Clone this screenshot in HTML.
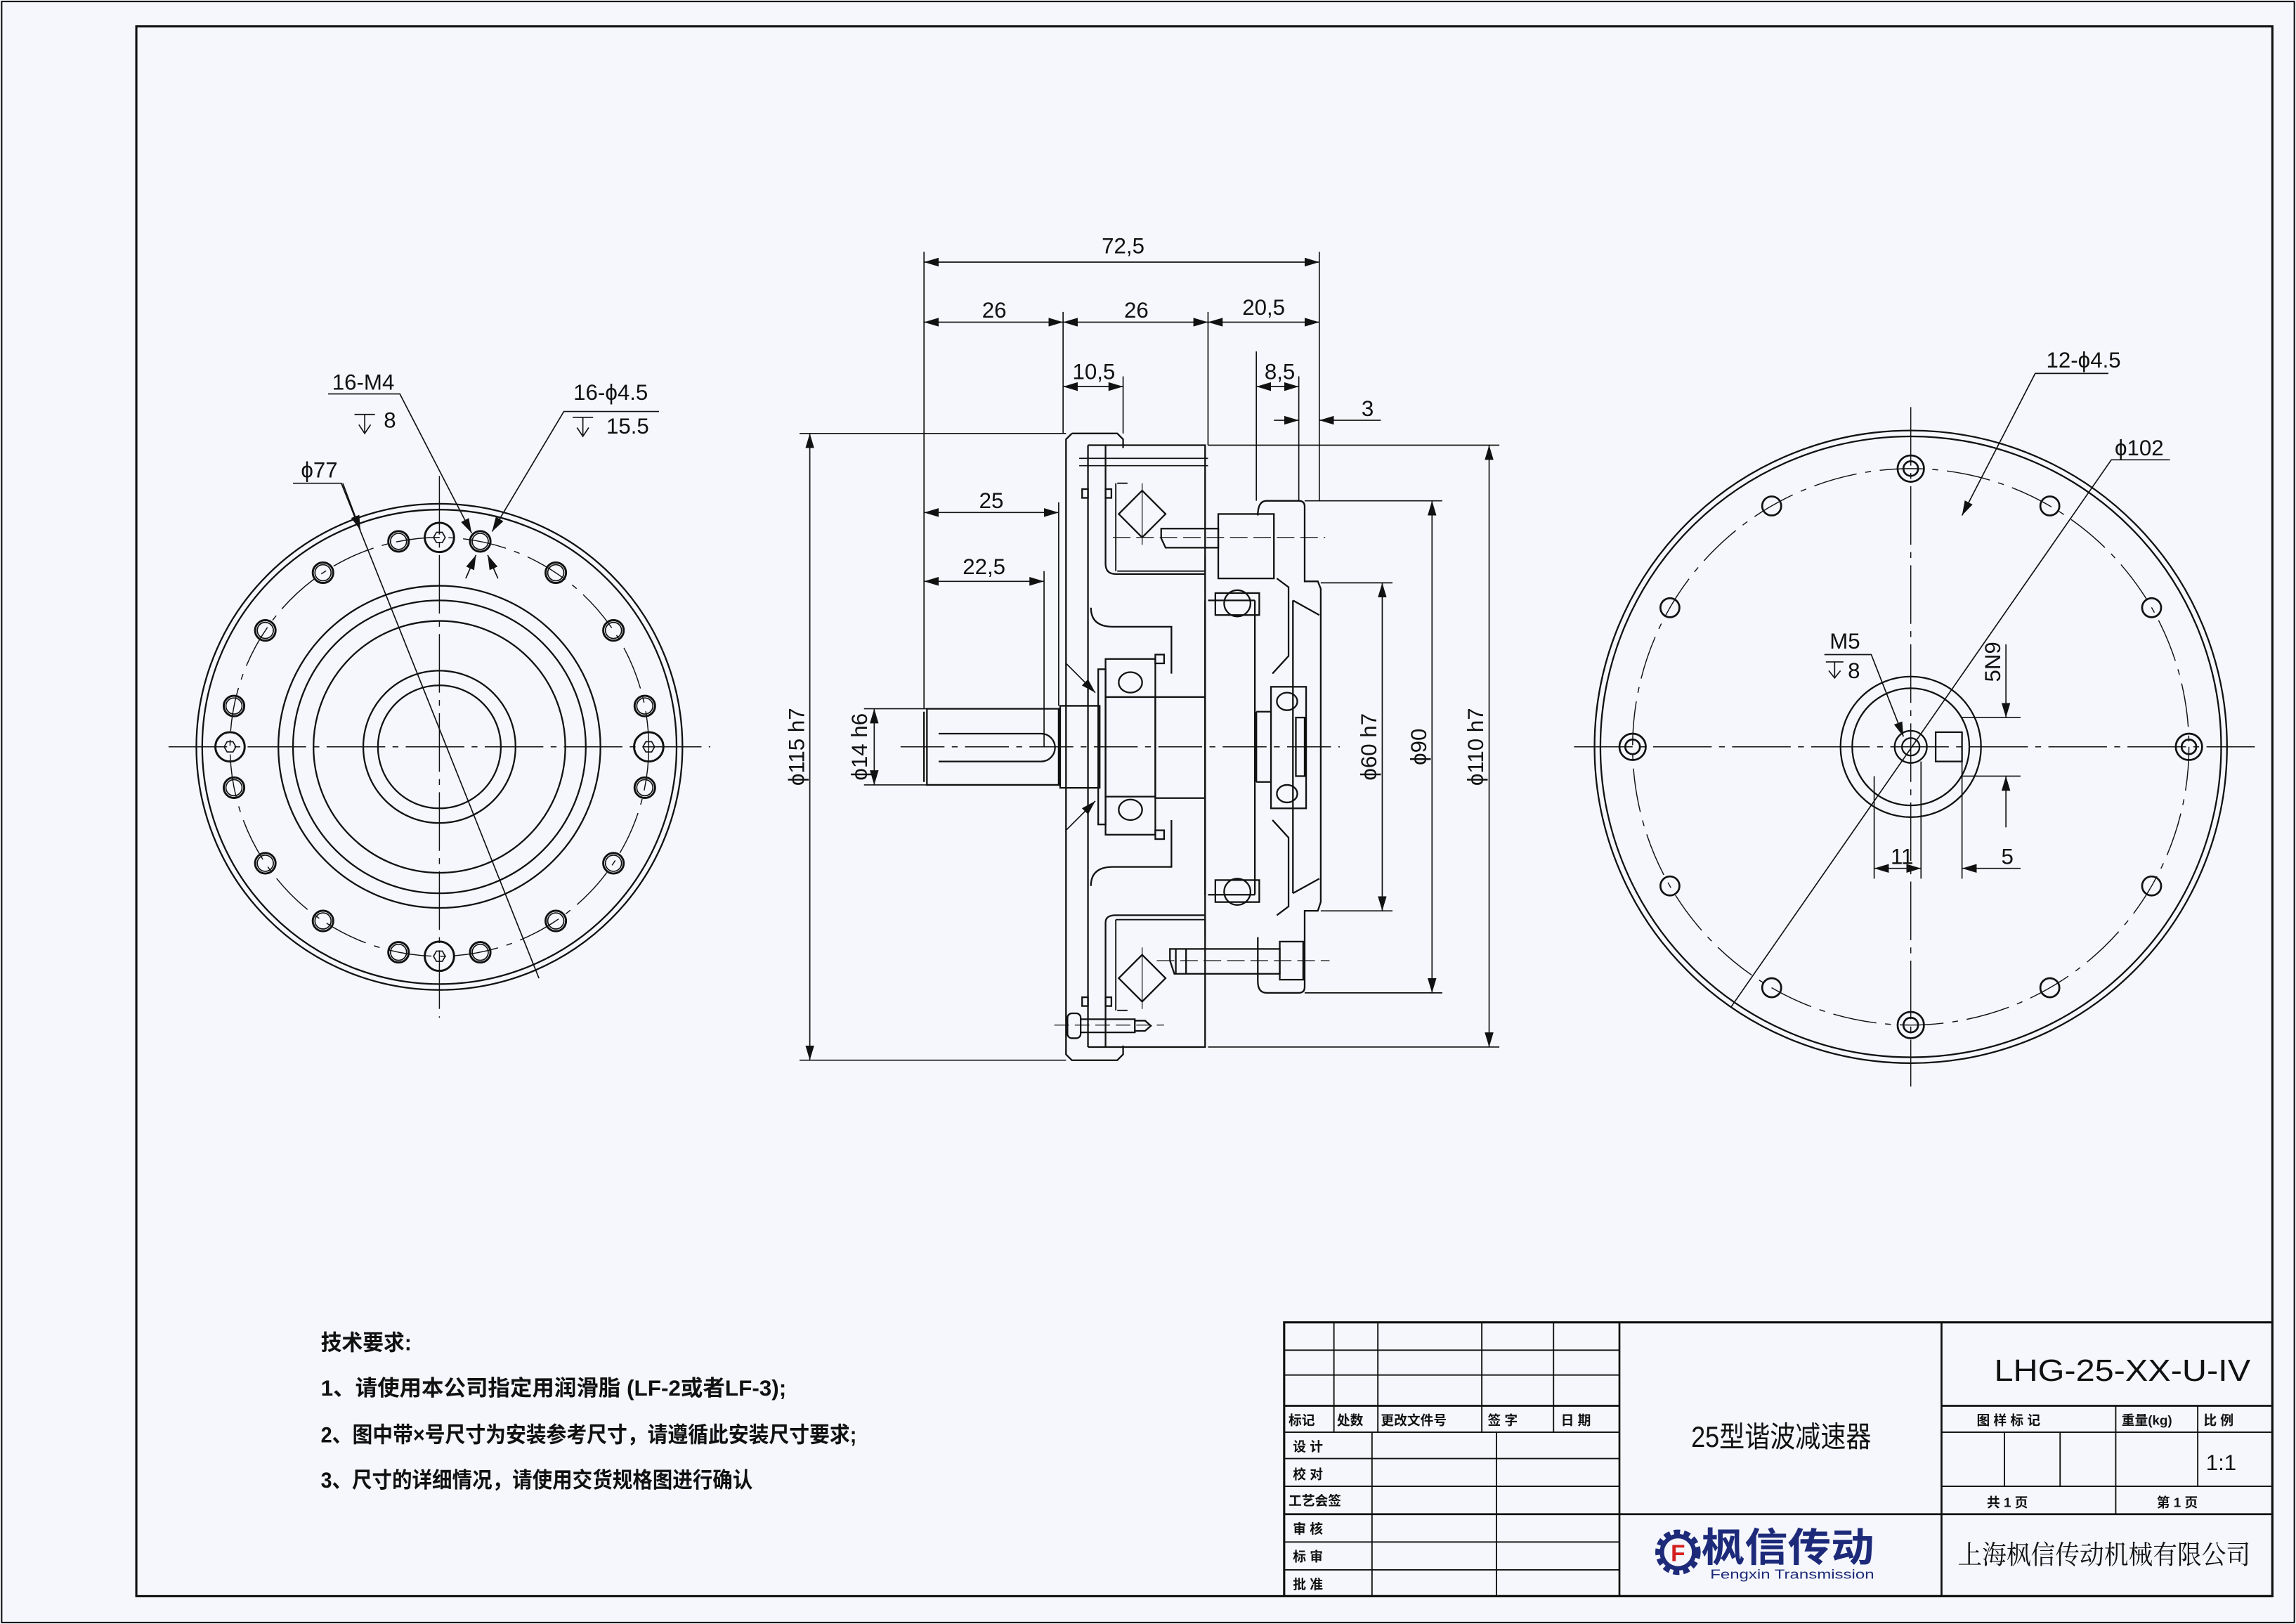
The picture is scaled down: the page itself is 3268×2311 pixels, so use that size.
<!DOCTYPE html>
<html><head><meta charset="utf-8"><style>
html,body{margin:0;padding:0;background:#f5f7fc}
svg{display:block}
text{font-family:"Liberation Sans","Noto Sans CJK SC",sans-serif;fill:#111}
</style></head><body>
<svg width="3268" height="2311" viewBox="0 0 1568 1109" xmlns="http://www.w3.org/2000/svg">
<defs>
<marker id="ar" markerWidth="10" markerHeight="6" refX="10" refY="3" orient="auto-start-reverse" markerUnits="userSpaceOnUse"><path d="M0,0 L10,3 L0,6 z" fill="#111"/></marker>
</defs>
<rect x="0" y="0" width="1568" height="1109" fill="#f5f7fc"/>
<rect x="1" y="1" width="1566" height="1107" fill="none" stroke="#111" stroke-width="1"/>
<rect x="93" y="18" width="1459" height="1072" fill="none" stroke="#111" stroke-width="1.5"/>

<g fill="none" stroke="#111" stroke-width="1.1">
<!-- ============ LEFT VIEW ============ -->
<g>
<line x1="115" y1="510" x2="485" y2="510" stroke-width="0.7" stroke-dasharray="40,5,4,5"/>
<line x1="300" y1="325" x2="300" y2="695" stroke-width="0.7" stroke-dasharray="40,5,4,5"/>
<circle cx="300" cy="510" r="166"/>
<circle cx="300" cy="510" r="162"/>
<circle cx="300" cy="510" r="110"/>
<circle cx="300" cy="510" r="100"/>
<circle cx="300" cy="510" r="86"/>
<circle cx="300" cy="510" r="52"/>
<circle cx="300" cy="510" r="42"/>
<circle cx="300" cy="510" r="143" stroke-width="0.7" stroke-dasharray="30,6,4,6"/>
<g stroke-width="1.4">
<circle cx="440.3" cy="537.9" r="7"/><circle cx="440.3" cy="482.1" r="7"/><circle cx="159.7" cy="537.9" r="7"/><circle cx="159.7" cy="482.1" r="7"/>
<circle cx="418.9" cy="589.5" r="7"/><circle cx="418.9" cy="430.5" r="7"/><circle cx="181.1" cy="589.5" r="7"/><circle cx="181.1" cy="430.5" r="7"/>
<circle cx="379.5" cy="628.9" r="7"/><circle cx="379.5" cy="391.1" r="7"/><circle cx="220.5" cy="628.9" r="7"/><circle cx="220.5" cy="391.1" r="7"/>
<circle cx="327.9" cy="650.3" r="7"/><circle cx="327.9" cy="369.7" r="7"/><circle cx="272.1" cy="650.3" r="7"/><circle cx="272.1" cy="369.7" r="7"/>
<circle cx="443" cy="510" r="10"/><circle cx="157" cy="510" r="10"/><circle cx="300" cy="367" r="10"/><circle cx="300" cy="653" r="10"/>
</g>
<g stroke-width="0.8">
<circle cx="440.3" cy="537.9" r="5.5"/><circle cx="440.3" cy="482.1" r="5.5"/><circle cx="159.7" cy="537.9" r="5.5"/><circle cx="159.7" cy="482.1" r="5.5"/>
<circle cx="418.9" cy="589.5" r="5.5"/><circle cx="418.9" cy="430.5" r="5.5"/><circle cx="181.1" cy="589.5" r="5.5"/><circle cx="181.1" cy="430.5" r="5.5"/>
<circle cx="379.5" cy="628.9" r="5.5"/><circle cx="379.5" cy="391.1" r="5.5"/><circle cx="220.5" cy="628.9" r="5.5"/><circle cx="220.5" cy="391.1" r="5.5"/>
<circle cx="327.9" cy="650.3" r="5.5"/><circle cx="327.9" cy="369.7" r="5.5"/><circle cx="272.1" cy="650.3" r="5.5"/><circle cx="272.1" cy="369.7" r="5.5"/>
<polygon points="447,510 445,513.5 441,513.5 439,510 441,506.5 445,506.5"/>
<polygon points="161,510 159,513.5 155,513.5 153,510 155,506.5 159,506.5"/>
<polygon points="304,367 302,370.5 298,370.5 296,367 298,363.5 302,363.5"/>
<polygon points="304,653 302,656.5 298,656.5 296,653 298,649.5 302,649.5"/>
</g>
<polyline points="224,269 273,269 322,364" stroke-width="0.8" marker-end="url(#ar)"/>
<polyline points="450,281 385,281 336,363" stroke-width="0.8" marker-end="url(#ar)"/>
<polyline points="200,330 233,330 368,668" stroke-width="0.8"/>
<line x1="234" y1="330" x2="246" y2="362" stroke-width="0.8" marker-end="url(#ar)"/>
<line x1="318" y1="395" x2="325" y2="379" stroke-width="0.8" marker-end="url(#ar)"/>
<line x1="340" y1="395" x2="333" y2="379" stroke-width="0.8" marker-end="url(#ar)"/>
<path d="M242,283 h14 M249,283 v12 M245,290 l4,6 l4,-6" stroke-width="0.8"/>
<path d="M391,285 h14 M398,285 v12 M394,292 l4,6 l4,-6" stroke-width="0.8"/>
</g>

<!-- ============ RIGHT VIEW ============ -->
<g>
<line x1="1075" y1="510" x2="1540" y2="510" stroke-width="0.7" stroke-dasharray="40,5,4,5"/>
<line x1="1305" y1="278" x2="1305" y2="742" stroke-width="0.7" stroke-dasharray="40,5,4,5"/>
<circle cx="1305" cy="510" r="216"/>
<circle cx="1305" cy="510" r="212"/>
<circle cx="1305" cy="510" r="190" stroke-width="0.7" stroke-dasharray="30,6,4,6"/>
<g stroke-width="1.3">
<circle cx="1495" cy="510" r="9"/><circle cx="1115" cy="510" r="9"/><circle cx="1305" cy="320" r="9"/><circle cx="1305" cy="700" r="9"/>
<circle cx="1495" cy="510" r="5"/><circle cx="1115" cy="510" r="5"/><circle cx="1305" cy="320" r="5"/><circle cx="1305" cy="700" r="5"/>
<circle cx="1469.5" cy="605" r="6.5"/><circle cx="1469.5" cy="415" r="6.5"/><circle cx="1140.5" cy="605" r="6.5"/><circle cx="1140.5" cy="415" r="6.5"/>
<circle cx="1400" cy="674.5" r="6.5"/><circle cx="1400" cy="345.5" r="6.5"/><circle cx="1210" cy="674.5" r="6.5"/><circle cx="1210" cy="345.5" r="6.5"/>
</g>
<circle cx="1305" cy="510" r="48"/>
<circle cx="1305" cy="510" r="40"/>
<circle cx="1305" cy="510" r="11"/>
<circle cx="1305" cy="510" r="6"/>
<rect x="1322" y="500" width="18" height="20"/>
<polyline points="1440,255 1390,255 1340,352" stroke-width="0.8" marker-end="url(#ar)"/>
<polyline points="1482,314 1442,314 1182,688" stroke-width="0.8"/>
<polyline points="1246,447 1278,447 1300,503" stroke-width="0.8" marker-end="url(#ar)"/>
<path d="M1247,452 h12 M1253,452 v10 M1249,458 l4,5 l4,-5" stroke-width="0.8"/>
<line x1="1340" y1="490" x2="1380" y2="490" stroke-width="0.8"/>
<line x1="1340" y1="530" x2="1380" y2="530" stroke-width="0.8"/>
<line x1="1370" y1="440" x2="1370" y2="490" stroke-width="0.8" marker-end="url(#ar)"/>
<line x1="1370" y1="565" x2="1370" y2="530" stroke-width="0.8" marker-end="url(#ar)"/>
<line x1="1280" y1="530" x2="1280" y2="600" stroke-width="0.8"/>
<line x1="1312" y1="520" x2="1312" y2="600" stroke-width="0.8"/>
<line x1="1340" y1="520" x2="1340" y2="600" stroke-width="0.8"/>
<line x1="1280" y1="593" x2="1312" y2="593" stroke-width="0.8" marker-start="url(#ar)" marker-end="url(#ar)"/>
<line x1="1380" y1="593" x2="1340" y2="593" stroke-width="0.8" marker-end="url(#ar)"/>
</g>

<!-- ============ MIDDLE VIEW ============ -->
<g>
<line x1="615" y1="510" x2="915" y2="510" stroke-width="0.7" stroke-dasharray="30,5,4,5"/>
<path d="M633,484 H723 V536 H633 Z"/>
<path d="M631,486 V534"/>
<path d="M641,501 H711 A9.5,9.5 0 0 1 711,520 H641"/>
<path d="M724,482 H751 V538 H724 Z"/>
<path d="M732,296 H763 L767,300 V306 M732,296 L728,300 V720 L732,724 H763 L767,720 V714"/>
<path d="M743,304 V715 M755,304 V385 Q755,392 762,392 H823 M755,715 V630 Q755,625 762,625 H823"/>
<path d="M743,304 H823 V715 H743"/>
<path d="M737,313 H825 M737,318 H825" stroke-width="0.8"/>
<path d="M745,415 Q745,428 760,428 H800 V460"/>
<path d="M745,605 Q745,592 760,592 H800 V560"/>
<rect x="755" y="450" width="34" height="120"/>
<rect x="750" y="457" width="5" height="106"/>
<ellipse cx="772" cy="466" rx="8" ry="7"/>
<ellipse cx="772" cy="553" rx="8" ry="7"/>
<line x1="755" y1="476" x2="789" y2="476"/><line x1="755" y1="544" x2="789" y2="544"/>
<rect x="789" y="476" width="34" height="69"/>
<rect x="789" y="447" width="6" height="6"/><rect x="789" y="567" width="6" height="6"/>
<path d="M823,410 V611 M857,410 V611"/>
<path d="M825,410 H857 M825,611 H857"/>
<circle cx="845" cy="412" r="9"/><circle cx="845" cy="609" r="9"/>
<rect x="830" y="405" width="30" height="15"/>
<rect x="830" y="601" width="30" height="15"/>
<polygon points="780,335 796,351 780,367 764,351"/>
<polygon points="780,652 796,668 780,684 764,668"/>
<line x1="780" y1="330" x2="780" y2="372" stroke-width="0.6"/>
<line x1="780" y1="647" x2="780" y2="689" stroke-width="0.6"/>
<path d="M763,330 H770 M763,390 H823 V380 M762,330 V390" stroke-width="0.9"/>
<path d="M763,690 H770 M762,628 H823 V640 M762,628 V690" stroke-width="0.9"/>
<rect x="739" y="334" width="4" height="6"/><rect x="755" y="334" width="4" height="6"/>
<rect x="739" y="681" width="4" height="6"/><rect x="755" y="681" width="4" height="6"/>
<path d="M793,361 H832 V374 H796 L793,367.5 Z"/>
<rect x="832" y="351" width="38" height="44"/>
<line x1="760" y1="367" x2="905" y2="367" stroke-width="0.6" stroke-dasharray="12,4"/>
<path d="M859,352 Q859,342 865,342 H887 Q891,342 891,346 V397 H900 L902,402 V616 L900,622 H891 V674 Q891,678 887,678 H865 Q859,678 859,670 V640"/>
<path d="M883,410 L901,420 M883,610 L901,600 M883,410 V610"/>
<path d="M872,395 L880,401 V448 L869,460 M872,625 L880,619 V572 L869,560"/>
<rect x="868" y="469" width="24" height="83"/>
<ellipse cx="879" cy="479" rx="7" ry="6"/><ellipse cx="879" cy="542" rx="7" ry="6"/>
<rect x="885" y="490" width="6" height="40"/>
<path d="M858,486 H868 M858,534 H868 M858,486 V534"/>
<path d="M799,648 H874 V665 H802 L799,656 Z"/>
<rect x="874" y="643" width="16" height="26"/>
<line x1="803" y1="648" x2="803" y2="665"/><line x1="810" y1="648" x2="810" y2="665"/>
<line x1="790" y1="656" x2="908" y2="656" stroke-width="0.6" stroke-dasharray="12,4"/>
<rect x="729" y="692" width="9" height="17" rx="3"/>
<path d="M738,696 H775 V705 H738 M775,697 H782 L786,700.5 L782,704 H775"/>
<line x1="720" y1="700" x2="795" y2="700" stroke-width="0.6" stroke-dasharray="10,4"/>
<line x1="728" y1="453" x2="748" y2="473" stroke-width="0.8" marker-end="url(#ar)"/>
<line x1="728" y1="567" x2="748" y2="547" stroke-width="0.8" marker-end="url(#ar)"/>
</g>

<g stroke-width="0.8">
<line x1="631" y1="172" x2="631" y2="484"/>
<line x1="901" y1="172" x2="901" y2="342"/>
<line x1="726" y1="213" x2="726" y2="296"/>
<line x1="825" y1="213" x2="825" y2="304"/>
<line x1="767" y1="257" x2="767" y2="296"/>
<line x1="858" y1="240" x2="858" y2="342"/>
<line x1="887" y1="257" x2="887" y2="342"/>
<line x1="723" y1="343" x2="723" y2="482"/>
<line x1="713" y1="390" x2="713" y2="510"/>
<line x1="631" y1="179" x2="901" y2="179" marker-start="url(#ar)" marker-end="url(#ar)"/>
<line x1="631" y1="220" x2="726" y2="220" marker-start="url(#ar)" marker-end="url(#ar)"/>
<line x1="726" y1="220" x2="825" y2="220" marker-start="url(#ar)" marker-end="url(#ar)"/>
<line x1="825" y1="220" x2="901" y2="220" marker-start="url(#ar)" marker-end="url(#ar)"/>
<line x1="726" y1="264" x2="767" y2="264" marker-start="url(#ar)" marker-end="url(#ar)"/>
<line x1="858" y1="264" x2="887" y2="264" marker-start="url(#ar)" marker-end="url(#ar)"/>
<line x1="870" y1="287" x2="887" y2="287" marker-end="url(#ar)"/>
<line x1="943" y1="287" x2="901" y2="287" marker-end="url(#ar)"/>
<line x1="631" y1="350" x2="723" y2="350" marker-start="url(#ar)" marker-end="url(#ar)"/>
<line x1="631" y1="397" x2="713" y2="397" marker-start="url(#ar)" marker-end="url(#ar)"/>
<line x1="546" y1="296" x2="728" y2="296"/>
<line x1="546" y1="724" x2="728" y2="724"/>
<line x1="553" y1="296" x2="553" y2="724" marker-start="url(#ar)" marker-end="url(#ar)"/>
<line x1="590" y1="484" x2="633" y2="484"/>
<line x1="590" y1="536" x2="633" y2="536"/>
<line x1="597" y1="484" x2="597" y2="536" marker-start="url(#ar)" marker-end="url(#ar)"/>
<line x1="902" y1="398" x2="951" y2="398"/>
<line x1="902" y1="622" x2="951" y2="622"/>
<line x1="944" y1="398" x2="944" y2="622" marker-start="url(#ar)" marker-end="url(#ar)"/>
<line x1="891" y1="342" x2="985" y2="342"/>
<line x1="891" y1="678" x2="985" y2="678"/>
<line x1="978" y1="342" x2="978" y2="678" marker-start="url(#ar)" marker-end="url(#ar)"/>
<line x1="825" y1="304" x2="1024" y2="304"/>
<line x1="825" y1="715" x2="1024" y2="715"/>
<line x1="1017" y1="304" x2="1017" y2="715" marker-start="url(#ar)" marker-end="url(#ar)"/>
</g>
</g>

<g font-size="15">
<text x="767" y="173" text-anchor="middle">72,5</text>
<text x="679" y="217" text-anchor="middle">26</text>
<text x="776" y="217" text-anchor="middle">26</text>
<text x="863" y="215" text-anchor="middle">20,5</text>
<text x="747" y="259" text-anchor="middle">10,5</text>
<text x="874" y="259" text-anchor="middle">8,5</text>
<text x="934" y="284" text-anchor="middle">3</text>
<text x="677" y="347" text-anchor="middle">25</text>
<text x="672" y="392" text-anchor="middle">22,5</text>
<text transform="translate(549,510) rotate(-90)" text-anchor="middle">ϕ115 h7</text>
<text transform="translate(592,510) rotate(-90)" text-anchor="middle">ϕ14 h6</text>
<text transform="translate(940,510) rotate(-90)" text-anchor="middle">ϕ60 h7</text>
<text transform="translate(974,510) rotate(-90)" text-anchor="middle">ϕ90</text>
<text transform="translate(1013,510) rotate(-90)" text-anchor="middle">ϕ110 h7</text>
<text x="248" y="266" text-anchor="middle">16-M4</text>
<text x="262" y="292">8</text>
<text x="417" y="273" text-anchor="middle">16-ϕ4.5</text>
<text x="414" y="296">15.5</text>
<text x="218" y="326" text-anchor="middle">ϕ77</text>
<text x="1423" y="251" text-anchor="middle">12-ϕ4.5</text>
<text x="1461" y="311" text-anchor="middle">ϕ102</text>
<text x="1260" y="443" text-anchor="middle">M5</text>
<text x="1262" y="463">8</text>
<text transform="translate(1366,452) rotate(-90)" text-anchor="middle">5N9</text>
<text x="1299" y="590" text-anchor="middle">11</text>
<text x="1371" y="590" text-anchor="middle">5</text>
</g>

<g font-size="15" font-weight="bold">
<text x="219" y="922" textLength="62" lengthAdjust="spacingAndGlyphs">技术要求:</text>
<text x="219" y="953" textLength="318" lengthAdjust="spacingAndGlyphs">1、请使用本公司指定用润滑脂 (LF-2或者LF-3);</text>
<text x="219" y="985" textLength="366" lengthAdjust="spacingAndGlyphs">2、图中带×号尺寸为安装参考尺寸，请遵循此安装尺寸要求;</text>
<text x="219" y="1016" textLength="295" lengthAdjust="spacingAndGlyphs">3、尺寸的详细情况，请使用交货规格图进行确认</text>
</g>

<g fill="none" stroke="#111">
<rect x="877" y="903" width="675" height="187" stroke-width="1.5"/>
<g stroke-width="0.9">
<line x1="877" y1="922" x2="1106" y2="922"/>
<line x1="877" y1="939" x2="1106" y2="939"/>
<line x1="877" y1="960" x2="1106" y2="960" stroke-width="1.3"/>
<line x1="877" y1="978" x2="1106" y2="978"/>
<line x1="877" y1="996" x2="1106" y2="996"/>
<line x1="877" y1="1015" x2="1106" y2="1015"/>
<line x1="877" y1="1034" x2="1552" y2="1034" stroke-width="1.3"/>
<line x1="877" y1="1053" x2="1106" y2="1053"/>
<line x1="877" y1="1072" x2="1106" y2="1072"/>
<line x1="911" y1="903" x2="911" y2="978"/>
<line x1="941" y1="903" x2="941" y2="978"/>
<line x1="1012" y1="903" x2="1012" y2="978"/>
<line x1="1061" y1="903" x2="1061" y2="978"/>
<line x1="937" y1="978" x2="937" y2="1090"/>
<line x1="1022" y1="978" x2="1022" y2="1090"/>
<line x1="1106" y1="903" x2="1106" y2="1090" stroke-width="1.3"/>
<line x1="1326" y1="903" x2="1326" y2="1090" stroke-width="1.3"/>
<line x1="1326" y1="960" x2="1552" y2="960" stroke-width="1.3"/>
<line x1="1326" y1="978" x2="1552" y2="978"/>
<line x1="1326" y1="1015" x2="1552" y2="1015"/>
<line x1="1369" y1="978" x2="1369" y2="1015"/>
<line x1="1407" y1="978" x2="1407" y2="1015"/>
<line x1="1445" y1="960" x2="1445" y2="1034"/>
<line x1="1501" y1="960" x2="1501" y2="1015"/>
</g>
</g>
<g font-size="9" font-weight="bold">
<text x="880" y="973">标记</text><text x="913" y="973">处数</text><text x="943" y="973">更改文件号</text>
<text x="1016" y="973">签  字</text><text x="1066" y="973">日  期</text>
<text x="883" y="991">设  计</text><text x="883" y="1010">校  对</text><text x="880" y="1028">工艺会签</text>
<text x="883" y="1047">审  核</text><text x="883" y="1066">标  审</text><text x="883" y="1085">批  准</text>
<text x="1350" y="973">图 样 标 记</text><text x="1449" y="973">重量(kg)</text><text x="1505" y="973">比  例</text>
<text x="1357" y="1029">共 1 页</text><text x="1473" y="1029">第 1 页</text>
</g>
<text x="1362" y="943" font-size="21" textLength="175" lengthAdjust="spacingAndGlyphs">LHG-25-XX-U-IV</text>
<text x="1155" y="988" font-size="20" textLength="123" lengthAdjust="spacingAndGlyphs">25型谐波减速器</text>
<text x="1517" y="1004" font-size="15" text-anchor="middle">1:1</text>
<text x="1337" y="1068" font-size="18" textLength="200" lengthAdjust="spacingAndGlyphs" style="font-family:'Noto Serif CJK SC','Liberation Serif',serif">上海枫信传动机械有限公司</text>
<g>
<circle cx="1146" cy="1060" r="13" fill="none" stroke="#1d2a7a" stroke-width="5" stroke-dasharray="4,2.5"/>
<circle cx="1146" cy="1060" r="11" fill="#f5f7fc" stroke="#1d2a7a" stroke-width="3"/>
<text x="1146" y="1066" font-size="16" font-weight="bold" text-anchor="middle" style="fill:#d42020">F</text>
<text x="1162" y="1066" font-size="27" font-weight="bold" textLength="118" lengthAdjust="spacingAndGlyphs" style="fill:#1d2a7a">枫信传动</text>
<text x="1168" y="1078" font-size="9" textLength="112" lengthAdjust="spacingAndGlyphs" style="fill:#1d2a7a">Fengxin Transmission</text>
</g>
</svg>
</body></html>
